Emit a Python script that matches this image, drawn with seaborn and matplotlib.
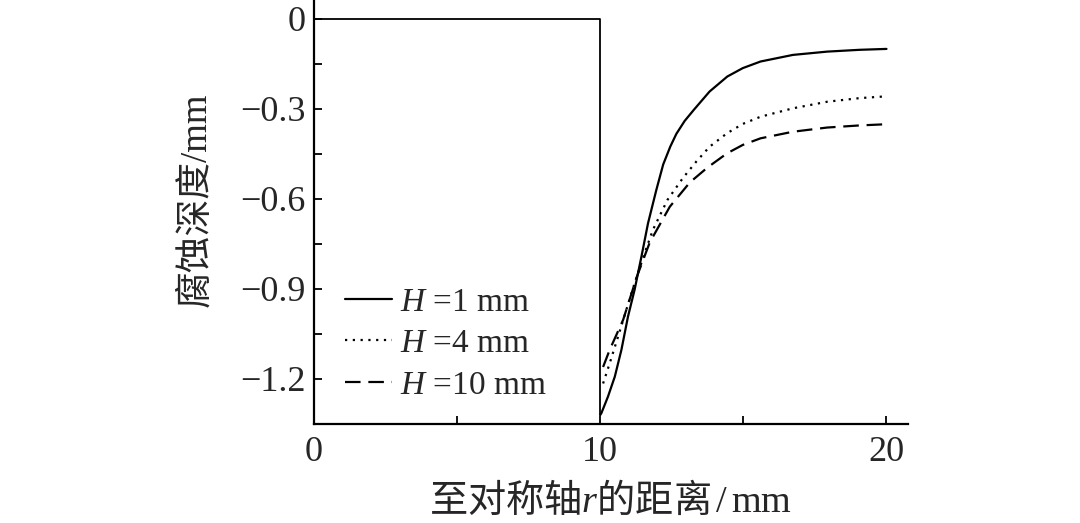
import matplotlib
matplotlib.use("Agg")
import matplotlib.pyplot as plt
import pandas as pd
import seaborn as sns
from matplotlib.ticker import MultipleLocator

# initial profile (step at r = 10)
step_r = [0, 10, 10]
step_d = [0, 0, -1.32]

# corrosion depth curves
r_h1 = [10.0, 10.04, 10.27, 10.51, 10.74, 10.97, 11.20, 11.44, 11.67, 11.96, 12.2,
        12.45, 12.66, 12.95, 13.27, 13.82, 14.44, 14.98, 15.6, 16.73, 17.93, 19.06, 20.0]
d_h1 = [-1.32, -1.314, -1.259, -1.192, -1.103, -0.992, -0.903, -0.792, -0.681, -0.570, -0.485,
        -0.425, -0.383, -0.34, -0.303, -0.242, -0.192, -0.164, -0.142, -0.120, -0.109, -0.103, -0.100]

r_h4 = [10.1, 10.33, 10.62, 10.91, 11.2, 11.55, 11.84, 12.35, 12.89, 13.36, 13.82,
        14.43, 14.98, 15.6, 16.73, 17.93, 19.06, 20.0]
d_h4 = [-1.215, -1.148, -1.06, -0.97, -0.881, -0.781, -0.703, -0.603, -0.53, -0.475, -0.426,
        -0.381, -0.35, -0.326, -0.298, -0.276, -0.264, -0.258]

r_h10 = [10.1, 10.33, 10.8, 11.28, 11.73, 12.43, 13.13, 13.75, 14.43, 14.98, 15.6,
         16.73, 17.93, 19.06, 20.0]
d_h10 = [-1.16, -1.103, -1.003, -0.859, -0.745, -0.626, -0.545, -0.495, -0.448, -0.42, -0.398,
         -0.376, -0.362, -0.355, -0.351]

labels = ["$H$ =1 mm", "$H$ =4 mm", "$H$ =10 mm"]

df = pd.concat([
    pd.DataFrame({"r": r_h1, "depth": d_h1, "H": labels[0]}),
    pd.DataFrame({"r": r_h4, "depth": d_h4, "H": labels[1]}),
    pd.DataFrame({"r": r_h10, "depth": d_h10, "H": labels[2]}),
])

sns.set_style("ticks")
plt.rcParams["font.family"] = ["Liberation Serif", "Noto Sans CJK SC"]
plt.rcParams["mathtext.fontset"] = "custom"
plt.rcParams["mathtext.it"] = "Liberation Serif:italic"
plt.rcParams["mathtext.rm"] = "Liberation Serif"
plt.rcParams["mathtext.sf"] = "Noto Sans CJK SC"

fig = plt.figure(figsize=(10.8, 5.23), dpi=100)
ax = fig.add_axes([0.2907, 0.1893, 0.55, 0.8107])

ax.plot(step_r, step_d, color="black", linewidth=1.3)

sns.lineplot(
    data=df, x="r", y="depth", style="H", color="black",
    dashes={labels[0]: "", labels[1]: (1, 2.5), labels[2]: (7, 3.5)},
    estimator=None, sort=False, linewidth=1.6, ax=ax,
)

ax.set_xlim(0, 20.75)
ax.set_ylim(-1.35, 0.063)
ax.xaxis.set_major_locator(MultipleLocator(10))
ax.xaxis.set_minor_locator(MultipleLocator(5))
ax.yaxis.set_minor_locator(MultipleLocator(0.15))
ax.set_yticks([0, -0.3, -0.6, -0.9, -1.2])
ax.set_yticklabels(["0", "\u22120.3", "\u22120.6", "\u22120.9", "\u22121.2"])

ax.tick_params(which="both", direction="in", length=6, width=1.3,
               labelsize=26, color="black")
ax.tick_params(axis="y", which="both", pad=6)
ax.tick_params(axis="x", which="both", pad=9)

for s in ["top", "right"]:
    ax.spines[s].set_visible(False)
for s in ["left", "bottom"]:
    ax.spines[s].set_linewidth(1.6)
    ax.spines[s].set_color("black")

ax.set_xlabel(r"$\mathsf{至对称轴}\mathit{r}\mathsf{的距离}\mathrm{\,/\,mm}$",
              fontsize=27.5, labelpad=8)
ax.set_ylabel("腐蚀深度/mm", fontsize=26.5)
ax.yaxis.set_label_coords(-0.17, 0.53)

ax.legend(loc="upper left", bbox_to_anchor=(0.052, 0.323), frameon=False,
          fontsize=24, handlelength=1.4, handletextpad=0.25,
          labelspacing=0.33, borderpad=0, borderaxespad=0)

fig.savefig("out.png", dpi=100)
plt.close(fig)
